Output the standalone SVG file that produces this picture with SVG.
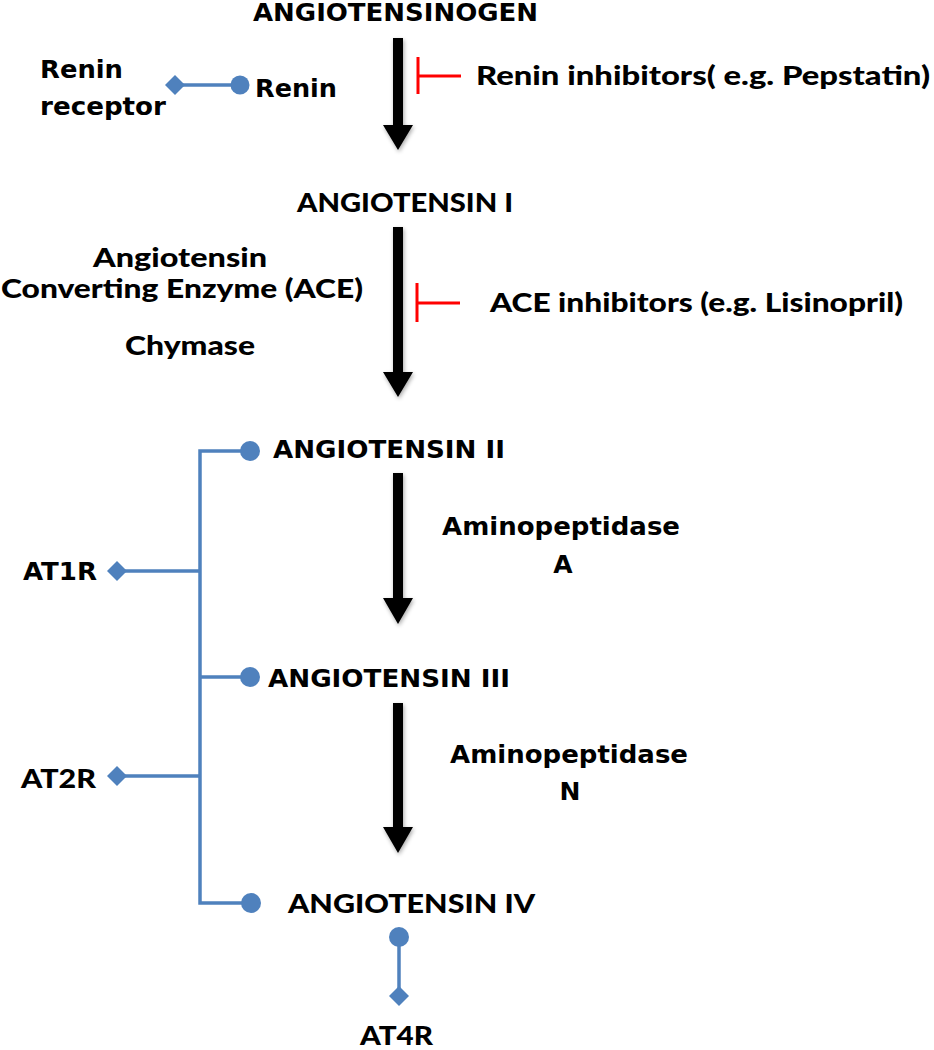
<svg xmlns="http://www.w3.org/2000/svg" width="934" height="1050" viewBox="0 0 934 1050">
<style>
.v{font-family:"DejaVu Sans","Liberation Sans",sans-serif;font-weight:bold;font-size:25px;fill:#000}
.c{font-family:Lato,"Liberation Sans",sans-serif;font-weight:900;font-size:26px;fill:#000}
.blue{stroke:#4F81BD;stroke-width:3.5;fill:none}
.bf{fill:#4F81BD}
.red{stroke:#FF0000;stroke-width:3;fill:none}
.arr{fill:#000}
</style>
<defs>
<filter id="sh" x="-50%" y="-10%" width="200%" height="130%">
<feGaussianBlur in="SourceAlpha" stdDeviation="2"/>
<feOffset dx="1" dy="2"/>
<feComponentTransfer><feFuncA type="linear" slope="0.35"/></feComponentTransfer>
<feMerge><feMergeNode/><feMergeNode in="SourceGraphic"/></feMerge>
</filter>
</defs>
<rect width="934" height="1050" fill="#fff"/>

<g id="connectors">
<polygon class="arr" filter="url(#sh)" points="393,38 403,38 403,125 413,125 398,150 383,125 393,125"/>
<polygon class="arr" filter="url(#sh)" points="393,227 403,227 403,372 413,372 398,397 383,372 393,372"/>
<polygon class="arr" filter="url(#sh)" points="393,473 403,473 403,598 413,598 398,624 383,598 393,598"/>
<polygon class="arr" filter="url(#sh)" points="393,703 403,703 403,827 413,827 398,853 383,827 393,827"/>
<path class="red" d="M418,57 V94 M418,76 H461"/>
<path class="red" d="M417,283 V322 M417,303 H460"/>
<path class="blue" d="M175,85 H240"/>
<path class="blue" d="M250,451 H200 V903 H251 M200,677 H250 M117,571 H200 M117,776 H200"/>
<path class="blue" d="M399,937 V996"/>
<circle class="bf" cx="240" cy="85" r="9.5"/>
<path class="bf" d="M165,85 L175,75 L185,85 L175,95 Z"/>
<circle class="bf" cx="250" cy="451" r="10"/>
<circle class="bf" cx="250" cy="677" r="10"/>
<circle class="bf" cx="251" cy="903" r="10"/>
<path class="bf" d="M107,571 L117,561 L127,571 L117,581 Z"/>
<path class="bf" d="M107,776 L117,766 L127,776 L117,786 Z"/>
<circle class="bf" cx="399" cy="937" r="10"/>
<path class="bf" d="M389,996 L399,986 L409,996 L399,1006 Z"/>
</g>

<g id="angiotensinogen"><text class="v" x="253" y="21" textLength="285" lengthAdjust="spacingAndGlyphs">ANGIOTENSINOGEN</text></g>
<g id="renin-receptor">
<text class="v" x="40" y="78" textLength="83" lengthAdjust="spacingAndGlyphs">Renin</text>
<text class="v" x="40" y="115" textLength="126" lengthAdjust="spacingAndGlyphs">receptor</text>
</g>
<g id="renin"><text class="v" x="255" y="97" textLength="82" lengthAdjust="spacingAndGlyphs">Renin</text></g>
<g id="renin-inhibitors"><text class="c" x="476" y="85" textLength="454" lengthAdjust="spacingAndGlyphs">Renin inhibitors(  e.g. Pepstatin)</text></g>
<g id="angiotensin-i"><text class="c" x="297" y="212" textLength="216" lengthAdjust="spacingAndGlyphs">ANGIOTENSIN I</text></g>
<g id="ace">
<text class="c" x="93" y="267" textLength="174" lengthAdjust="spacingAndGlyphs">Angiotensin</text>
<text class="c" x="1" y="298" textLength="362" lengthAdjust="spacingAndGlyphs">Converting Enzyme (ACE)</text>
<text class="c" x="125" y="355" textLength="130" lengthAdjust="spacingAndGlyphs">Chymase</text>
</g>
<g id="ace-inhibitors"><text class="c" x="490" y="312" textLength="413" lengthAdjust="spacingAndGlyphs">ACE inhibitors (e.g. Lisinopril)</text></g>
<g id="angiotensin-ii"><text class="v" x="273" y="458" textLength="232" lengthAdjust="spacingAndGlyphs">ANGIOTENSIN II</text></g>
<g id="aminopeptidase-a">
<text class="v" x="442" y="535" textLength="238" lengthAdjust="spacingAndGlyphs">Aminopeptidase</text>
<text class="v" x="563" y="573" text-anchor="middle">A</text>
</g>
<g id="at1r"><text class="v" x="23" y="580" textLength="74" lengthAdjust="spacingAndGlyphs">AT1R</text></g>
<g id="angiotensin-iii"><text class="v" x="268" y="687" textLength="242" lengthAdjust="spacingAndGlyphs">ANGIOTENSIN III</text></g>
<g id="aminopeptidase-n">
<text class="v" x="450" y="763" textLength="238" lengthAdjust="spacingAndGlyphs">Aminopeptidase</text>
<text class="v" x="570" y="800" text-anchor="middle">N</text>
</g>
<g id="at2r"><text class="c" x="21" y="788" textLength="75" lengthAdjust="spacingAndGlyphs">AT2R</text></g>
<g id="angiotensin-iv"><text class="c" x="288" y="913" textLength="247" lengthAdjust="spacingAndGlyphs">ANGIOTENSIN IV</text></g>
<g id="at4r"><text class="c" x="360" y="1045" textLength="73" lengthAdjust="spacingAndGlyphs">AT4R</text></g>
</svg>
